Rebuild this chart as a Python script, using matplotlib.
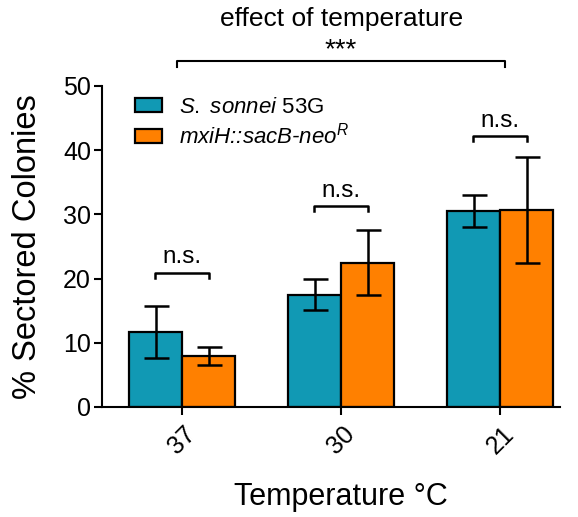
import matplotlib
matplotlib.use("Agg")
import matplotlib.pyplot as plt
import numpy as np

plt.rcParams['font.family'] = ['Liberation Sans', 'DejaVu Sans']
plt.rcParams['mathtext.fontset'] = 'custom'
plt.rcParams['mathtext.rm'] = 'Liberation Sans'
plt.rcParams['mathtext.it'] = 'Liberation Sans:italic'
plt.rcParams['mathtext.bf'] = 'Liberation Sans:bold'

categories = ['37', '30', '21']
wt_values = [11.7, 17.5, 30.5]
wt_err = [4.1, 2.4, 2.5]
mut_values = [8.0, 22.5, 30.7]
mut_err = [1.4, 5.0, 8.2]
series_labels = [r'$\mathit{S.}$ $\mathit{sonnei}$ 53G', r'mxiH::sacB-neo$^{\mathit{R}}$']
teal = '#1199b4'
orange = '#ff8000'

fig = plt.figure(figsize=(5.78, 5.17), dpi=100)
ax = fig.add_axes([0.1765, 0.2128, 0.969 - 0.1765, 0.8337 - 0.2128])

x = np.arange(len(categories))
w = 1 / 3
err_kw = dict(ecolor='black', elinewidth=1.8, capsize=9, capthick=1.8)
b1 = ax.bar(x - w / 2, wt_values, w, yerr=wt_err, color=teal, edgecolor='black',
            linewidth=1.6, error_kw=err_kw, label=series_labels[0], zorder=2)
b2 = ax.bar(x + w / 2, mut_values, w, yerr=mut_err, color=orange, edgecolor='black',
            linewidth=1.6, error_kw=err_kw, label=series_labels[1], zorder=2)

ax.set_xlim(-0.503, 2.377)
ax.set_ylim(0, 50)
ax.set_yticks([0, 10, 20, 30, 40, 50])
ax.set_xticks(x)
ax.set_xticklabels(categories, rotation=45, ha='center', va='top')
ax.tick_params(axis='both', labelsize=18, width=1.5, length=6, direction='out')
ax.tick_params(axis='y', pad=2)
ax.tick_params(axis='x', pad=5)
for s in ['top', 'right']:
    ax.spines[s].set_visible(False)
for s in ['left', 'bottom']:
    ax.spines[s].set_linewidth(1.5)

ax.set_ylabel('% Sectored Colonies', fontsize=23.5, labelpad=14)
ax.set_xlabel('Temperature \u00b0C', fontsize=22)
ax.xaxis.set_label_coords(0.522, -0.235)

# n.s. brackets
ns_heights = [20.9, 31.3, 42.2]
tick = 0.8
for xi, h in zip(x, ns_heights):
    ax.plot([xi - 0.17, xi - 0.17, xi + 0.17, xi + 0.17], [h - tick, h, h, h - tick],
            color='black', lw=1.8, clip_on=False)
    ax.text(xi, h + 0.7, 'n.s.', ha='center', va='bottom', fontsize=17.5)

# overall bracket
top_h = 53.9
ax.plot([-0.03, -0.03, 2.03, 2.03], [top_h - 1.0, top_h, top_h, top_h - 1.0],
        color='black', lw=1.5, clip_on=False)
ax.text(1.0, top_h - 0.3, '***', ha='center', va='bottom', fontsize=20)
ax.text(1.0, top_h + 4.6, 'effect of temperature', ha='center', va='bottom', fontsize=19)

leg = ax.legend(loc='upper left', bbox_to_anchor=(0.072, 0.965), frameon=False,
                fontsize=16, handlelength=1.23, handleheight=0.6, handletextpad=0.77,
                labelspacing=0.2, borderaxespad=0, borderpad=0)
leg.get_texts()[1].set_fontstyle('italic')

fig.savefig('out.png', dpi=100)
